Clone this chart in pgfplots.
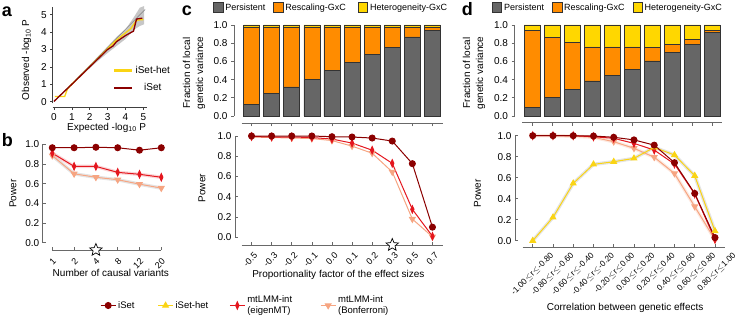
\documentclass[border=0pt]{standalone}
\usepackage{fontspec}
\setmainfont{Liberation Sans}
\usepackage{pgfplots}
\pgfplotsset{compat=1.18}
\usetikzlibrary{plotmarks}

\definecolor{cISet}{RGB}{139,0,0}
\definecolor{cEig}{RGB}{228,22,30}
\definecolor{cBon}{RGB}{246,165,130}
\definecolor{cHet}{RGB}{250,212,20}
\definecolor{cPers}{RGB}{102,102,102}
\definecolor{cResc}{RGB}{255,140,0}
\definecolor{cHetBar}{RGB}{255,215,0}
\definecolor{cSpine}{RGB}{105,105,105}

\pgfdeclareplotmark{fivestar}{%
  \pgfpathmoveto{\pgfpointpolar{90}{\pgfplotmarksize}}%
  \pgfpathlineto{\pgfpointpolar{126}{0.45\pgfplotmarksize}}%
  \pgfpathlineto{\pgfpointpolar{162}{\pgfplotmarksize}}%
  \pgfpathlineto{\pgfpointpolar{198}{0.45\pgfplotmarksize}}%
  \pgfpathlineto{\pgfpointpolar{234}{\pgfplotmarksize}}%
  \pgfpathlineto{\pgfpointpolar{270}{0.45\pgfplotmarksize}}%
  \pgfpathlineto{\pgfpointpolar{306}{\pgfplotmarksize}}%
  \pgfpathlineto{\pgfpointpolar{342}{0.45\pgfplotmarksize}}%
  \pgfpathlineto{\pgfpointpolar{18}{\pgfplotmarksize}}%
  \pgfpathlineto{\pgfpointpolar{54}{0.45\pgfplotmarksize}}%
  \pgfpathclose
  \pgfusepathqfillstroke
}

\pgfplotsset{
  base/.style={
    scale only axis, clip=false, enlargelimits=false,
    axis x line*=bottom, axis y line*=left,
    axis line style={line width=0.6pt, draw=cSpine},
    tick style={line width=0.6pt, color=cSpine},
    major tick length=3pt,
    tick label style={font=\fontsize{10}{12}\selectfont},
    every axis label/.append style={font=\fontsize{10}{13}\selectfont},
    ymin=0, ymax=1,
    ytick={0,0.2,0.4,0.6,0.8,1.0},
    yticklabels={0.0,0.2,0.4,0.6,0.8,1.0},
  },
  sISet/.style={cISet, line width=1pt, mark=*, mark size=3pt, mark options={solid, fill=cISet, draw=cISet}},
  sEig/.style={cEig, line width=1pt, mark=diamond*, mark size=3.6pt, mark options={solid, xscale=0.6, fill=cEig, draw=cEig}},
  sBon/.style={cBon, line width=1pt, mark=triangle*, mark size=3.2pt, mark options={solid, rotate=180, fill=cBon, draw=cBon}},
  sHet/.style={cHet, line width=1pt, mark=triangle*, mark size=3.2pt, mark options={solid, fill=cHet, draw=cHet}},
  band/.style={line width=3.5pt, opacity=0.35, forget plot, mark=none},
  starm/.style={only marks, mark=fivestar, mark size=6.5pt, mark options={fill=white, draw=black, line width=0.7pt}, forget plot},
  barsty/.style={draw=black!80, line width=0.6pt},
  barleg/.style 2 args={hide axis, scale only axis, width=10pt, height=10pt,
    anchor=west, xmin=0, xmax=1, ymin=0, ymax=1,
    legend columns=3,
    legend style={at={(0,0.5)}, anchor=west, draw=none, fill=none, inner sep=0pt,
      font=\fontsize{9}{11}\selectfont,
      /tikz/column 2/.style={column sep=#1},
      /tikz/column 4/.style={column sep=#2}},
    legend image code/.code={\draw[##1] (0pt,-4.5pt) rectangle (9.5pt,5pt);},
  },
}

\begin{document}
\begin{tikzpicture}[font=\fontsize{10}{12}\selectfont]
\path[use as bounding box] (0,0) rectangle (736pt,316pt);

% panel letters
\node[anchor=base west, inner sep=0pt, font=\bfseries\fontsize{18}{18}\selectfont] at (1.7pt,299.3pt) {a};
\node[anchor=base west, inner sep=0pt, font=\bfseries\fontsize{18}{18}\selectfont] at (1.7pt,169pt) {b};
\node[anchor=base west, inner sep=0pt, font=\bfseries\fontsize{18}{18}\selectfont] at (181.7pt,300pt) {c};
\node[anchor=base west, inner sep=0pt, font=\bfseries\fontsize{18}{18}\selectfont] at (461.7pt,300pt) {d};

% ---------------- panel a ----------------
\begin{axis}[
  scale only axis, clip=false, enlargelimits=false,
  at={(52.7pt,212.7pt)}, anchor=south west, width=94pt, height=96.6pt,
  xmin=-0.07, xmax=5.19, ymin=-0.09, ymax=5.46,
  axis x line*=bottom, axis y line*=left, axis x line shift=4pt,
  axis line style={line width=0.6pt, draw=black!75},
  tick style={line width=0.6pt, color=black!75}, tick align=outside, major tick length=2.5pt,
  xtick={0,1,2,3,4,5}, ytick={0,1,2,3,4,5},
  xticklabels={0,1,2,3,4,5}, yticklabels={0,1,2,3,4,5},
  tick label style={font=\fontsize{10}{12}\selectfont},
  every axis label/.append style={font=\fontsize{10}{12}\selectfont},
  xlabel={Expected -log\textsubscript{10} P},
  ylabel={Observed -log\textsubscript{10} P},
  xlabel style={at={(axis description cs:0.574,-0.25)}, anchor=center},
  ylabel style={at={(axis description cs:-0.277,0.448)}, anchor=center},
  legend style={at={(axis description cs:0.64,0.41)}, anchor=north west, draw=none, fill=none,
    inner sep=0pt, row sep=5pt, font=\fontsize{10}{12}\selectfont},
  legend image code/.code={\draw[#1, line width=2.5pt] (0pt,0pt) -- (18pt,0pt);},
]
\addplot[fill=black!22, draw=none, forget plot] coordinates {
 (0,0.05) (1,1.05) (2,2.08) (2.5,2.62) (3,3.17) (3.5,3.72) (4,4.15) (4.5,4.9) (4.8,5.4) (5.05,5.5)
 (5.05,4.45) (4.8,4.35) (4.5,4.15) (4,3.6) (3.5,3.2) (3,2.8) (2.5,2.38) (2,1.93) (1,0.96) (0,0)} -- cycle;
\addplot[black!45, line width=0.6pt, forget plot] coordinates {(0,0) (5.1,5.3)};
\addplot[cHet, line width=1.3pt] coordinates {
 (0.05,0.3) (0.6,0.3) (0.75,0.72) (1,1.0) (2,2.02) (3,3.05) (3.5,3.55) (4,3.95) (4.3,4.2) (4.6,4.65) (4.75,4.7) (5,4.72)};
\addlegendentry{iSet-het}
\addplot[cISet, line width=1.3pt] coordinates {
 (0,0.02) (1,1.0) (2,2.0) (3,3.0) (3.3,3.2) (3.5,3.45) (4,3.8) (4.35,4.0) (4.45,4.05) (4.62,4.75) (4.8,4.78) (4.95,4.8)};
\addlegendentry{iSet}
\end{axis}

% ---------------- panel b ----------------
\begin{axis}[base,
  at={(52.3pt,73.3pt)}, anchor=south west, width=109pt, height=98.4pt,
  xmin=0, xmax=5,
  axis x line shift=7.3pt, axis y line shift=9.6pt, tick align=inside,
  xtick={0,1,2,3,4,5}, xticklabels={1,2,4,8,12,20},
  xticklabel style={font=\fontsize{9}{10}\selectfont, yshift=-2.5pt, rotate=45, anchor=north east},
  xlabel={Number of causal variants}, ylabel={Power},
  xlabel style={at={(axis description cs:0.537,-0.311)}, anchor=center},
  ylabel style={at={(axis description cs:-0.36,0.5)}, anchor=center},
]
\addplot[band, color=black!30] coordinates {(0,0.885)(1,0.70)(2,0.665)(3,0.64)(4,0.595)(5,0.555)};
\addplot[band, color=cEig!50] coordinates {(0,0.91)(1,0.776)(2,0.775)(3,0.715)(4,0.695)(5,0.665)};
\addplot[sBon] coordinates {(0,0.885)(1,0.70)(2,0.665)(3,0.64)(4,0.595)(5,0.555)};
\addplot[sEig] coordinates {(0,0.91)(1,0.776)(2,0.775)(3,0.715)(4,0.695)(5,0.665)};
\addplot[sISet] coordinates {(0,0.965)(1,0.965)(2,0.97)(3,0.965)(4,0.94)(5,0.965)};
\addplot[starm] coordinates {(2,-0.074)};
\end{axis}

% ---------------- panel c top ----------------
\begin{axis}[base,
  at={(241.5pt,200pt)}, anchor=south west, width=201pt, height=91pt,
  xmin=-0.5, xmax=9.5, ybar stacked, bar width=16pt,
  axis x line shift=7.3pt, axis y line shift=7.5pt, tick align=outside,
  xtick={0,...,9}, xticklabels={},
  ylabel={Fraction of local\\genetic variance},
  ylabel style={align=center, at={(axis description cs:-0.236,0.473)}, anchor=center},
]
\addplot[barsty, fill=cPers] coordinates {(0,0.13)(1,0.245)(2,0.32)(3,0.405)(4,0.50)(5,0.59)(6,0.68)(7,0.755)(8,0.87)(9,0.94)};
\addplot[barsty, fill=cResc] coordinates {(0,0.85)(1,0.735)(2,0.66)(3,0.575)(4,0.48)(5,0.39)(6,0.30)(7,0.225)(8,0.11)(9,0.04)};
\addplot[barsty, fill=cHetBar] coordinates {(0,0.02)(1,0.02)(2,0.02)(3,0.02)(4,0.02)(5,0.02)(6,0.02)(7,0.02)(8,0.02)(9,0.02)};
\end{axis}

% ---------------- panel c bottom ----------------
\begin{axis}[base,
  at={(241.5pt,78.7pt)}, anchor=south west, width=201pt, height=101.3pt,
  xmin=-0.5, xmax=9.5,
  axis x line shift=7.7pt, axis y line shift=6.5pt, tick align=inside,
  xtick={0,...,9}, xticklabels={-0.5,-0.3,-0.2,-0.1,0.0,0.1,0.2,0.3,0.5,0.7},
  xticklabel style={font=\fontsize{9}{10}\selectfont, xshift=2pt, yshift=-2pt, rotate=45, anchor=north east},
  xlabel={Proportionality factor of the effect sizes}, ylabel={Power},
  xlabel style={at={(axis description cs:0.482,-0.372)}, anchor=center},
  ylabel style={at={(axis description cs:-0.197,0.484)}, anchor=center},
]
\addplot[sBon] coordinates {(0,0.99)(1,0.985)(2,0.98)(3,0.975)(4,0.955)(5,0.90)(6,0.83)(7,0.645)(8,0.18)(9,0.005)};
\addplot[sEig] coordinates {(0,0.995)(1,0.99)(2,0.99)(3,0.985)(4,0.97)(5,0.93)(6,0.86)(7,0.73)(8,0.276)(9,0.01)};
\addplot[sISet] coordinates {(0,1.0)(1,1.0)(2,1.0)(3,1.0)(4,0.993)(5,0.99)(6,0.98)(7,0.95)(8,0.727)(9,0.10)};
\addplot[starm] coordinates {(7,-0.076)};
\end{axis}

% ---------------- panel d top ----------------
\begin{axis}[base,
  at={(522.2pt,200pt)}, anchor=south west, width=200pt, height=91pt,
  xmin=-0.5, xmax=9.5, ybar stacked, bar width=16pt,
  axis x line shift=6.7pt, axis y line shift=7.7pt, tick align=outside,
  xtick={0,...,9}, xticklabels={},
  ylabel={Fraction of local\\genetic variance},
  ylabel style={align=center, at={(axis description cs:-0.241,0.473)}, anchor=center},
]
\addplot[barsty, fill=cPers] coordinates {(0,0.095)(1,0.205)(2,0.29)(3,0.385)(4,0.45)(5,0.51)(6,0.605)(7,0.70)(8,0.79)(9,0.915)};
\addplot[barsty, fill=cResc] coordinates {(0,0.845)(1,0.655)(2,0.515)(3,0.375)(4,0.31)(5,0.25)(6,0.145)(7,0.085)(8,0.055)(9,0.03)};
\addplot[barsty, fill=cHetBar] coordinates {(0,0.06)(1,0.14)(2,0.195)(3,0.24)(4,0.24)(5,0.24)(6,0.25)(7,0.215)(8,0.155)(9,0.055)};
\end{axis}

% ---------------- panel d bottom ----------------
\begin{axis}[base,
  at={(522.6pt,75.3pt)}, anchor=south west, width=202.5pt, height=105pt,
  xmin=-0.5, xmax=9.5,
  axis x line shift=6.6pt, axis y line shift=7.6pt, tick align=inside,
  xtick={0,...,9},
  xticklabels={-1.00\kern0.5pt$\leq$\kern0.5pt r\kern0.5pt$\leq$\kern0.5pt-0.80,
               -0.80\kern0.5pt$\leq$\kern0.5pt r\kern0.5pt$\leq$\kern0.5pt-0.60,
               -0.60\kern0.5pt$\leq$\kern0.5pt r\kern0.5pt$\leq$\kern0.5pt-0.40,
               -0.40\kern0.5pt$\leq$\kern0.5pt r\kern0.5pt$\leq$\kern0.5pt-0.20,
               -0.20\kern0.5pt$\leq$\kern0.5pt r\kern0.5pt$\leq$\kern0.5pt0.00,
               0.00\kern0.5pt$\leq$\kern0.5pt r\kern0.5pt$\leq$\kern0.5pt0.20,
               0.20\kern0.5pt$\leq$\kern0.5pt r\kern0.5pt$\leq$\kern0.5pt0.40,
               0.40\kern0.5pt$\leq$\kern0.5pt r\kern0.5pt$\leq$\kern0.5pt0.60,
               0.60\kern0.5pt$\leq$\kern0.5pt r\kern0.5pt$\leq$\kern0.5pt0.80,
               0.80\kern0.5pt$\leq$\kern0.5pt r\kern0.5pt$\leq$\kern0.5pt1.00},
  xticklabel style={font=\fontsize{8.3}{9}\selectfont, inner sep=1.5pt, xshift=17pt, yshift=-2pt, rotate=45, anchor=north east},
  xlabel={Correlation between genetic effects}, ylabel={Power},
  xlabel style={at={(axis description cs:0.506,-0.644)}, anchor=center},
  ylabel style={at={(axis description cs:-0.223,0.451)}, anchor=center},
]
\addplot[band, color=cBon!70] coordinates {(0,1.0)(1,1.0)(2,0.995)(3,0.985)(4,0.943)(5,0.88)(6,0.795)(7,0.64)(8,0.325)(9,0.01)};
\addplot[band, color=black!30] coordinates {(0,0.0)(1,0.222)(2,0.546)(3,0.727)(4,0.752)(5,0.784)(6,0.889)(7,0.816)(8,0.619)(9,0.092)};
\addplot[sBon] coordinates {(0,1.0)(1,1.0)(2,0.995)(3,0.985)(4,0.943)(5,0.88)(6,0.795)(7,0.64)(8,0.325)(9,0.01)};
\addplot[sEig] coordinates {(0,1.0)(1,1.0)(2,1.0)(3,0.99)(4,0.975)(5,0.927)(6,0.863)(7,0.73)(8,0.445)(9,0.013)};
\addplot[sHet] coordinates {(0,0.0)(1,0.222)(2,0.546)(3,0.727)(4,0.752)(5,0.784)(6,0.889)(7,0.816)(8,0.619)(9,0.092)};
\addplot[sISet] coordinates {(0,1.0)(1,1.0)(2,1.0)(3,0.997)(4,0.985)(5,0.96)(6,0.91)(7,0.743)(8,0.45)(9,0.03)};
\end{axis}

% ---------------- legends ----------------
\begin{axis}[hide axis, scale only axis, width=10pt, height=10pt,
  at={(100pt,10.5pt)}, anchor=west, xmin=0, xmax=1, ymin=0, ymax=1,
  legend columns=4,
  legend style={at={(0,0.5)}, anchor=west, draw=none, fill=none, inner sep=0pt,
    font=\fontsize{9.5}{11}\selectfont, cells={align=left},
    /tikz/column 2/.style={column sep=21pt},
    /tikz/column 4/.style={column sep=19pt},
    /tikz/column 6/.style={column sep=26pt}},
  legend image code/.code={\draw[mark repeat=2, mark phase=2, #1] plot coordinates {(0pt,0pt) (7.5pt,0pt) (15pt,0pt)};},
]
\addlegendimage{sISet}\addlegendentry{iSet}
\addlegendimage{sHet}\addlegendentry{iSet-het}
\addlegendimage{sEig}\addlegendentry{mtLMM-int\\(eigenMT)}
\addlegendimage{sBon}\addlegendentry{mtLMM-int\\(Bonferroni)}
\end{axis}

\begin{axis}[barleg={6pt}{10pt}, at={(213pt,308.5pt)}]
\addlegendimage{barsty, fill=cPers}\addlegendentry{Persistent}
\addlegendimage{barsty, fill=cResc}\addlegendentry{Rescaling-GxC}
\addlegendimage{barsty, fill=cHetBar}\addlegendentry{Heterogeneity-GxC}
\end{axis}

\begin{axis}[barleg={6pt}{6pt}, at={(491.7pt,308.5pt)}]
\addlegendimage{barsty, fill=cPers}\addlegendentry{Persistent}
\addlegendimage{barsty, fill=cResc}\addlegendentry{Rescaling-GxC}
\addlegendimage{barsty, fill=cHetBar}\addlegendentry{Heterogeneity-GxC}
\end{axis}

\end{tikzpicture}
\end{document}
